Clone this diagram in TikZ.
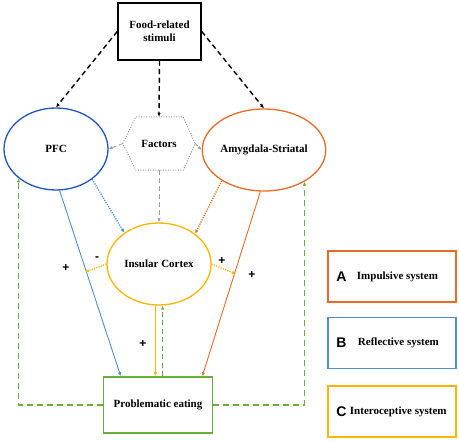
\documentclass[tikz,border=0pt]{standalone}
\usepackage{fontspec}
\setmainfont{Liberation Serif}
\newfontfamily\signfont{Liberation Sans}
\usetikzlibrary{shapes.geometric,arrows.meta,calc}
\definecolor{pfcblue}{HTML}{1F56C3}
\definecolor{refblue}{HTML}{4A90D9}
\definecolor{imporange}{HTML}{EC6A21}
\definecolor{intyellow}{HTML}{FFB400}
\definecolor{eatgreen}{HTML}{6AAF3D}
\definecolor{facgray}{HTML}{A0A0A0}
\begin{document}
\begin{tikzpicture}[x=1pt,y=-1pt,
    font=\fontsize{11}{13}\selectfont\bfseries,
    area/.style={ellipse,draw,line width=1.3pt,minimum width=104pt,minimum height=82pt,inner sep=0pt},
    box/.style={rectangle,draw,line width=1.5pt,inner sep=0pt},
    tip/.style={-{Latex[length=4pt,width=3.5pt]}},
    sign/.style={font=\signfont\fontsize{12}{12}\selectfont\bfseries}]
\useasboundingbox (0,0) rectangle (459,441);
% nodes
\node[box,minimum width=83pt,minimum height=57pt,align=center] (food) at (159.5,31.5) {Food-related\\stimuli};
\node[area,pfcblue] (pfc) at (56,149) {\color{black}PFC};
\node[area,imporange] (amy) at (264,150) {\color{black}Amygdala-Striatal};
\node[minimum width=72pt,minimum height=53pt,inner sep=0pt] (fac) at (159,143.5) {Factors};
\draw[facgray,line width=1pt,dash pattern=on 1pt off 1.5pt] (fac.west) -- ($(fac.north west)+(13,0)$) -- ($(fac.north east)+(-12,0)$) -- (fac.east) -- ($(fac.south east)+(-12,0)$) -- ($(fac.south west)+(13,0)$) -- cycle;
\node[area,intyellow] (ins) at (159,264) {\color{black}Insular Cortex};
\node[box,eatgreen,minimum width=109pt,minimum height=56pt] (prob) at (158,405) {\color{black}Problematic eating};
\coordinate (minus) at (85,272);
\coordinate (plus) at (236,274);
% stimuli
\draw[tip,line width=1.4pt,dash pattern=on 5pt off 3.5pt] (food.west) -- (pfc.north);
\draw[tip,line width=1.4pt,dash pattern=on 5pt off 3.5pt] (food.south) -- (fac.north);
\draw[tip,line width=1.4pt,dash pattern=on 5pt off 3.5pt] (food.east) -- (amy.north);
% factors
\draw[tip,facgray,line width=0.9pt,dash pattern=on 4pt off 3pt] (fac.west) -- (pfc.east);
\draw[tip,facgray,line width=0.9pt,dash pattern=on 4pt off 3pt] (fac.east) -- (amy.west);
\draw[tip,facgray,line width=0.9pt,dash pattern=on 5pt off 3pt] (fac.south) -- (ins.north);
% systems
\draw[tip,refblue,line width=1.3pt,dash pattern=on 1.2pt off 1.2pt] (pfc.-40) -- (ins.138);
\draw[tip,imporange,line width=1.3pt,dash pattern=on 1.2pt off 1.2pt] (amy.-144) -- (ins.40);
\draw[tip,refblue,line width=0.9pt] (pfc.-85) -- ($(prob.north west)+(18,0)$);
\draw[tip,imporange,line width=0.9pt] (amy.-95) -- ($(prob.north east)+(-11,0)$);
\draw[tip,intyellow,line width=1.3pt,dash pattern=on 1.2pt off 1.2pt] (ins.west) -- (minus);
\draw[tip,intyellow,line width=1.3pt,dash pattern=on 1.2pt off 1.2pt] (ins.east) -- (plus);
\draw[tip,intyellow,line width=1.6pt] ([xshift=-3.5pt]ins.south) -- ([xshift=-3.5pt]ins.south |- prob.north);
\draw[tip,eatgreen,line width=1.2pt,dash pattern=on 5pt off 3.5pt] ([xshift=4.5pt]prob.north) -- ([xshift=4.5pt]prob.north |- ins.south);
% feedback loop
\draw[tip,eatgreen,line width=1.3pt,dash pattern=on 6pt off 4pt] (prob.west) -| (pfc.-142);
\draw[tip,eatgreen,line width=1.3pt,dash pattern=on 6pt off 4pt] (prob.east) -| (amy.-38);
% signs
\node[sign] at (66,268) {+};
\node[sign] at (97,259) {-};
\node[sign] at (222,261) {+};
\node[sign] at (252,275) {+};
\node[sign] at (143,344) {+};
% legend
\foreach \l/\y/\c/\d/\t in {A/276.5/imporange/10/Impulsive system,B/343/refblue/11/Reflective system,C/411.5/intyellow/3/Interoceptive system}
{
    \node[box,\c,minimum width=128pt,minimum height=51pt] (leg\l) at (392,\y) {};
    \node[anchor=west,inner sep=0pt,font=\signfont\fontsize{14}{14}\selectfont\bfseries] (let\l) at ([xshift=9pt]leg\l.west) {\l};
    \node[anchor=west,inner sep=0pt] at ([xshift=\d pt]let\l.east) {\t};
}
\end{tikzpicture}
\end{document}
